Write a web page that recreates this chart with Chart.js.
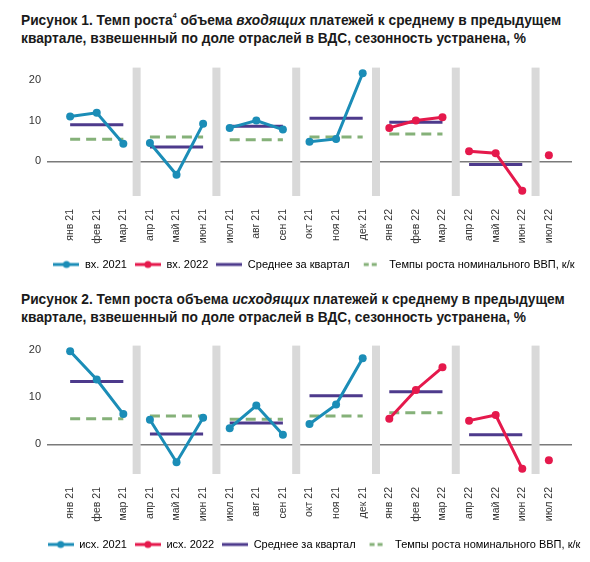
<!DOCTYPE html>
<html lang="ru">
<head>
<meta charset="utf-8">
<script src="https://cdn.jsdelivr.net/npm/chart.js@4.4.1/dist/chart.umd.min.js"></script>
<style>
  body { margin: 0; background: #fff; width: 590px; height: 562px; position: relative; overflow: hidden; font-family: "Liberation Sans", Arial, sans-serif; }
  .title { position: absolute; left: 21px; font-weight: bold; font-size: 13.75px; line-height: 18px; color: #1a1a1a; white-space: nowrap; }
  .title sup { font-size: 7px; line-height: 0; position: relative; top: -1px; }
  canvas { position: absolute; left: 0; }
</style>
</head>
<body>
<div class="title" style="top:12px">Рисунок 1. Темп роста<sup>4</sup> объема <i>входящих</i> платежей к среднему в предыдущем<br>квартале, взвешенный по доле отраслей в ВДС, сезонность устранена, %</div>
<canvas id="chart1" width="590" height="225" style="top:55px"></canvas>
<div class="title" style="top:291px">Рисунок 2. Темп роста объема <i>исходящих</i> платежей к среднему в предыдущем<br>квартале, взвешенный по доле отраслей в ВДС, сезонность устранена, %</div>
<canvas id="chart2" width="590" height="229" style="top:333px"></canvas>
<script>
const months = ["янв 21", "фев 21", "мар 21", "апр 21", "май 21", "июн 21", "июл 21", "авг 21", "сен 21",
    "окт 21", "ноя 21", "дек 21", "янв 22", "фев 22", "мар 22", "апр 22", "май 22", "июн 22", "июл 22"];
const yTicks = [0, 10, 20];
const quarterBreaks = [2.5, 5.5, 8.5, 11.5, 14.5, 17.5];

// Рисунок 1: входящие платежи
const in2021 = [11.0, 11.9, 4.3, 4.5, -3.3, 9.2, 8.2, 10.0, 7.8, 4.8, 5.5, 21.6];
const in2022 = [8.2, 10.0, 10.8, 2.5, 2.0, -7.2, 1.5];
const inQuarterAvg = [9.0, 3.5, 8.6, 10.6, 9.6, -0.8];

// Рисунок 2: исходящие платежи
const out2021 = [19.7, 13.7, 6.4, 5.2, -3.8, 5.6, 3.4, 8.2, 2.0, 4.3, 8.4, 18.2];
const out2022 = [5.4, 11.5, 16.3, 5.0, 6.2, -5.2, -3.4];
const outQuarterAvg = [13.3, 2.2, 4.5, 10.3, 11.1, 2.0];

// Темпы роста номинального ВВП, к/к (одинаковы на обоих рисунках)
const gdpGrowth = [5.4, 6.0, 5.3, 6.0, 6.7];

const FONT = "'Liberation Sans', Arial, sans-serif";
const BLUE = "#1b8db7";
const RED = "#e5194c";
const PURPLE = "#4d3a8c";
const GREEN = "#85b179";

// monthly values -> points, broken at each quarter
function toPoints(values, start) {
    const pts = [];
    values.forEach((v, i) => {
        const x = start + i;
        if (pts.length && x % 3 === 0) pts.push({x: x - 0.5, y: null});
        pts.push({x: x, y: v});
    });
    return pts;
}

// one flat segment per quarter
function quarterPoints(values) {
    const pts = [];
    values.forEach((v, q) => {
        if (q > 0) pts.push({x: 3 * q - 0.5, y: null});
        pts.push({x: 3 * q, y: v}, {x: 3 * q + 2, y: v});
    });
    return pts;
}

function legendIcon(color, dashed, dot) {
    const c = document.createElement("canvas");
    c.width = 26;
    c.height = 10;
    const ctx = c.getContext("2d");
    ctx.strokeStyle = color;
    ctx.lineWidth = 3;
    if (dashed) ctx.setLineDash([5, 3]);
    ctx.beginPath();
    ctx.moveTo(dashed ? 6 : 0, 5);
    ctx.lineTo(dashed ? 20 : 26, 5);
    ctx.stroke();
    if (dot) {
        ctx.fillStyle = color;
        ctx.beginPath();
        ctx.arc(13, 5, 3.5, 0, Math.PI * 2);
        ctx.fill();
    }
    return c;
}

const quarterBands = {
    id: "quarterBands",
    beforeDatasetsDraw(chart) {
        const {ctx, chartArea, scales: {x}} = chart;
        ctx.save();
        ctx.fillStyle = "#d9d9d9";
        quarterBreaks.forEach((b) => {
            const px = x.getPixelForValue(b);
            ctx.fillRect(px - 4, chartArea.top, 8, chartArea.bottom - chartArea.top);
        });
        ctx.restore();
    }
};

// the legend in the picture sits a bit right of the canvas centre
const legendShift = {
    id: "legendShift",
    afterLayout(chart) {
        chart.legend.left += 28;
        chart.legend.right += 28;
    }
};

function makeChart(canvas, labels, series2021, series2022, quarterAvg, opts) {
    return new Chart(canvas, {
        type: "line",
        data: {
            datasets: [{
                label: labels[0],
                data: toPoints(series2021, 0),
                borderColor: BLUE,
                backgroundColor: BLUE,
                borderWidth: 3,
                pointRadius: 4,
                pointBorderWidth: 0,
                legendIcon: legendIcon(BLUE, false, true)
            }, {
                label: labels[1],
                data: toPoints(series2022, 12),
                borderColor: RED,
                backgroundColor: RED,
                borderWidth: 3,
                pointRadius: 4,
                pointBorderWidth: 0,
                legendIcon: legendIcon(RED, false, true)
            }, {
                label: "Среднее за квартал",
                data: quarterPoints(quarterAvg),
                borderColor: PURPLE,
                backgroundColor: PURPLE,
                borderWidth: 3,
                pointRadius: 0,
                order: 1,
                legendIcon: legendIcon(PURPLE, false, false)
            }, {
                label: "Темпы роста номинального ВВП, к/к",
                data: quarterPoints(gdpGrowth),
                borderColor: GREEN,
                backgroundColor: GREEN,
                borderWidth: 3,
                borderDash: [10, 6],
                pointRadius: 0,
                order: 2,
                legendIcon: legendIcon(GREEN, true, false)
            }]
        },
        options: {
            responsive: false,
            animation: false,
            layout: {
                padding: {top: 7, right: 18, left: 0, bottom: opts.bottomPad}
            },
            scales: {
                x: {
                    type: "linear",
                    min: -0.87,
                    max: 18.87,
                    afterBuildTicks: (scale) => {
                        scale.ticks = months.map((m, i) => ({value: i}));
                    },
                    afterFit: (scale) => {
                        scale.height = opts.xHeight;
                    },
                    grid: {display: false},
                    border: {display: false},
                    ticks: {
                        autoSkip: false,
                        minRotation: 90,
                        maxRotation: 90,
                        padding: 5,
                        color: "#333",
                        font: {family: FONT, size: 10.5},
                        callback: (value) => months[value]
                    }
                },
                y: {
                    min: opts.yMin,
                    max: opts.yMax,
                    afterBuildTicks: (scale) => {
                        scale.ticks = yTicks.map((v) => ({value: v}));
                    },
                    afterFit: (scale) => {
                        scale.width = 47;
                    },
                    grid: {
                        drawTicks: false,
                        lineWidth: 1.5,
                        color: (ctx) => ctx.tick && ctx.tick.value === 0 ? "#7a7a7a" : "rgba(0,0,0,0)"
                    },
                    border: {display: false},
                    ticks: {
                        padding: 6,
                        color: "#333",
                        font: {family: FONT, size: 11}
                    }
                }
            },
            plugins: {
                legend: {
                    position: "bottom",
                    labels: {
                        usePointStyle: true,
                        pointStyleWidth: 26,
                        padding: 8,
                        color: "#333",
                        font: {family: FONT, size: 11},
                        generateLabels: (chart) => chart.data.datasets.map((ds, i) => ({
                            text: ds.label,
                            pointStyle: ds.legendIcon,
                            fillStyle: ds.borderColor,
                            strokeStyle: ds.borderColor,
                            lineWidth: 0,
                            hidden: false,
                            datasetIndex: i
                        }))
                    }
                },
                tooltip: {enabled: false}
            }
        },
        plugins: [quarterBands, legendShift]
    });
}

makeChart(document.getElementById("chart1"), ["вх. 2021", "вх. 2022"], in2021, in2022, inQuarterAvg,
    {yMin: -8.5, yMax: 23, xHeight: 55, bottomPad: 0});
makeChart(document.getElementById("chart2"), ["исх. 2021", "исх. 2022"], out2021, out2022, outQuarterAvg,
    {yMin: -6.3, yMax: 20.9, xHeight: 57, bottomPad: 2});
</script>
</body>
</html>
